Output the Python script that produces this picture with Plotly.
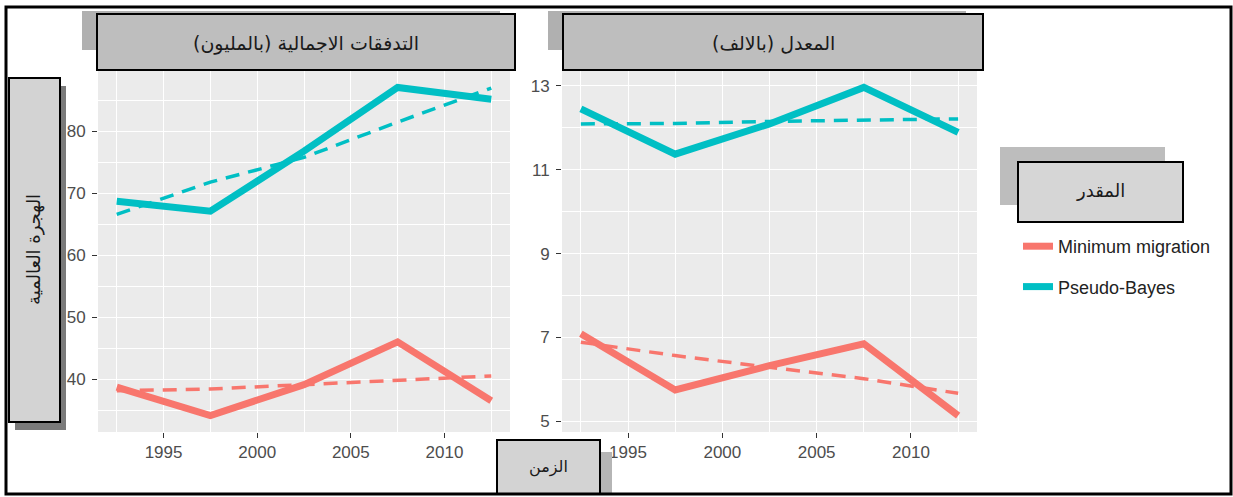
import plotly.graph_objects as go

# ---------------- data ----------------
years = [1992.5, 1997.5, 2002.5, 2007.5, 2012.5]

flows_mm = [38.7, 34.1, 39.1, 46.0, 36.5]
flows_mm_trend = [38.1, 38.4, 39.1, 39.8, 40.5]
flows_pb = [68.7, 67.1, 76.8, 87.1, 85.2]
flows_pb_trend = [66.6, 71.8, 75.8, 81.5, 87.0]

rate_mm = [7.09, 5.75, 6.33, 6.85, 5.14]
rate_mm_trend = [6.89, 6.57, 6.29, 6.02, 5.67]
rate_pb = [12.45, 11.37, 12.09, 12.96, 11.89]
rate_pb_trend = [12.09, 12.10, 12.15, 12.19, 12.21]

series_names = ["Minimum migration", "Pseudo-Bayes"]
series_colors = ["#F8766D", "#00BFC4"]
panel_titles = ["التدفقات الاجمالية (بالمليون)", "المعدل (بالالف)"]
y_title = "الهجرة العالمية"
x_title = "الزمن"
legend_title = "المقدر"

x_ticks = [1995, 2000, 2005, 2010]
left_y_ticks = [40, 50, 60, 70, 80]
right_y_ticks = [5, 7, 9, 11, 13]

# ---------------- layout helpers ----------------
W, H = 1233, 497
def px(x):
    return x / W
def py(y):
    return 1 - y / H

def expand(vals, f=0.05):
    lo, hi = min(vals), max(vals)
    d = (hi - lo) * f
    return [lo - d, hi + d]

fig = go.Figure()

panels = [
    ("x", "y", [flows_mm, flows_pb], [flows_mm_trend, flows_pb_trend]),
    ("x2", "y2", [rate_mm, rate_pb], [rate_mm_trend, rate_pb_trend]),
]
for pi, (xa, ya, solids, trends) in enumerate(panels):
    for si in range(2):
        fig.add_trace(go.Scatter(
            x=years, y=trends[si], xaxis=xa, yaxis=ya, mode="lines",
            line=dict(color=series_colors[si], width=3.5, dash="14px,9px"),
            showlegend=False, hoverinfo="skip"))
        fig.add_trace(go.Scatter(
            x=years, y=solids[si], xaxis=xa, yaxis=ya, mode="lines",
            line=dict(color=series_colors[si], width=7),
            name=series_names[si], legendgroup=series_names[si],
            showlegend=(pi == 0)))

tickfont = dict(family="Liberation Sans, Arial", size=17, color="#4D4D4D")
xrange_ = expand(years)
common_x = dict(range=xrange_, tickvals=x_ticks, showgrid=True, gridcolor="white",
                gridwidth=1.4, ticks="outside", ticklen=5, tickcolor="#333333",
                tickfont=tickfont, zeroline=False, showline=False,
                minor=dict(dtick=2.5, tick0=1992.5, showgrid=True,
                           gridcolor="white", gridwidth=0.6, ticks=""))
common_y = dict(showgrid=True, gridcolor="white", gridwidth=1.4, ticks="outside",
                ticklen=5, tickcolor="#333333", tickfont=tickfont,
                ticklabelstandoff=3, zeroline=False, showline=False)

yl = expand(flows_mm + flows_pb + flows_mm_trend + flows_pb_trend)
yr = expand(rate_mm + rate_pb + rate_mm_trend + rate_pb_trend)

fig.update_layout(
    width=W, height=H,
    margin=dict(l=0, r=0, t=0, b=0),
    paper_bgcolor="white",
    plot_bgcolor="#EBEBEB",
    xaxis=dict(domain=[px(98), px(510)], anchor="y", **common_x),
    xaxis2=dict(domain=[px(562), px(977)], anchor="y2", **common_x),
    yaxis=dict(domain=[py(432), py(71)], anchor="x", range=yl, tickvals=left_y_ticks,
               minor=dict(dtick=5, tick0=35, showgrid=True, gridcolor="white",
                          gridwidth=0.6, ticks=""), **common_y),
    yaxis2=dict(domain=[py(432), py(71)], anchor="x2", range=yr, tickvals=right_y_ticks,
                minor=dict(dtick=1, tick0=4, showgrid=True, gridcolor="white",
                           gridwidth=0.6, ticks=""), **common_y),
    legend=dict(x=px(1018), y=py(228), xanchor="left", yanchor="top",
                bgcolor="rgba(0,0,0,0)", tracegroupgap=14,
                font=dict(family="Liberation Sans, Arial", size=18, color="#222222")),
    showlegend=True,
)

shapes = []
annotations = []

def box(x0, y0, x1, y1, fill, border=True, lw=2):
    shapes.append(dict(type="rect", xref="paper", yref="paper",
                       x0=px(x0), x1=px(x1), y0=py(y1), y1=py(y0),
                       fillcolor=fill,
                       line=dict(color="black" if border else fill, width=lw if border else 0),
                       layer="above"))

def label(x, y, text, size, angle=0):
    annotations.append(dict(xref="paper", yref="paper", x=px(x), y=py(y), text=text,
                            showarrow=False, xanchor="center", yanchor="middle",
                            textangle=angle,
                            font=dict(family="DejaVu Sans", size=size, color="#1A1A1A")))

# panel strips with shadows
box(82, 11, 500, 50, "#B0B0B0", border=False)
box(97, 14, 515, 70, "#BEBEBE")
label(306, 43, panel_titles[0], 19)
box(548, 11, 966, 50, "#B0B0B0", border=False)
box(563, 14, 983, 70, "#BEBEBE")
label(773, 43, panel_titles[1], 19)

# y title box
box(15, 86, 66, 430, "#7A7A7A", border=False)
box(9, 78, 60, 422, "#D3D3D3")
label(34, 250, y_title, 18, angle=-90)

# x title box
box(505, 452, 612, 494, "#B5B5B5", border=False)
box(497, 440, 600, 494, "#D3D3D3")
label(548, 467, x_title, 16)

# legend title box
box(1000, 147, 1165, 205, "#BDBDBD", border=False)
box(1018, 162, 1183, 222, "#D6D6D6")
label(1100, 191, legend_title, 18)

# outer frame
shapes.append(dict(type="rect", xref="paper", yref="paper",
                   x0=px(6), x1=px(1231), y0=py(494), y1=py(7),
                   line=dict(color="black", width=3), fillcolor="rgba(0,0,0,0)",
                   layer="above"))

fig.update_layout(shapes=shapes, annotations=annotations)
fig.write_html("out.html", config={"displayModeBar": False},
               post_script="document.body.style.margin='0';document.body.style.overflow='hidden';")
